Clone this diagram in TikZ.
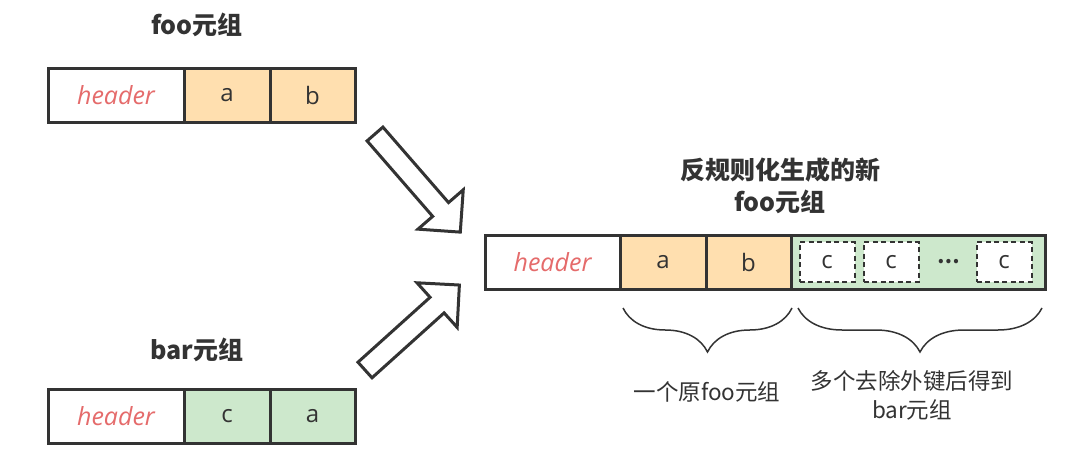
\documentclass[tikz,border=0pt]{standalone}
\usepackage{fontspec}
\setmainfont{Noto Sans CJK SC}
\newfontfamily\hdrfont{Open Sans}
\usetikzlibrary{positioning,calc,decorations.pathreplacing}

\definecolor{ink}{HTML}{333333}
\definecolor{fooorange}{HTML}{FFDFAF}
\definecolor{bargreen}{HTML}{CDE8CC}
\definecolor{hdrred}{HTML}{E56B6B}

\tikzset{
  cell/.style={draw=ink, line width=3pt, minimum height=54pt, outer sep=0pt,
    inner sep=0pt, text=ink, font=\hdrfont\fontsize{24}{28}\selectfont},
  hdrcell/.style={cell, minimum width=136pt, fill=white, text=hdrred,
    font=\hdrfont\itshape\fontsize{25}{28}\selectfont},
  foocell/.style={cell, minimum width=86pt, fill=fooorange},
  barcell/.style={cell, minimum width=86pt, fill=bargreen},
  cbox/.style={draw=ink, line width=2pt, dash pattern=on 5pt off 3.5pt, fill=white,
    minimum width=55pt, minimum height=40pt, inner sep=0pt, text=ink,
    font=\hdrfont\fontsize{24}{28}\selectfont},
  title/.style={text=ink, font=\bfseries\fontsize{25}{32}\selectfont, align=center},
  note/.style={text=ink, font=\fontsize{22.5}{29}\selectfont, align=center},
  curly/.style={draw=ink, line width=1.5pt, decorate,
    decoration={brace, mirror, amplitude=44pt}},
  hollow/.style={draw=ink, line width=3pt, fill=white, line join=miter},
}

\begin{document}
\begin{tikzpicture}[x=1pt, y=-1pt, node distance=0pt]
\useasboundingbox (0,0) rectangle (1082,455);

% foo tuple
\node[title] (footitle) at (197,25) {foo元组};
\node[hdrcell] (fooh) at (116,95) {header};
\node[foocell, right=of fooh] (fooa) {a};
\node[foocell, right=of fooa, minimum width=85pt] (foob) {b};

% bar tuple
\node[title] (bartitle) at (197,350) {bar元组};
\node[hdrcell] (barh) at (116,416) {header};
\node[barcell, right=of barh] (barc) {c};
\node[barcell, right=of barc, minimum width=85pt] (bara) {a};

% new foo tuple
\node[title] (newtitle) at (780,186) {反规则化生成的新\\foo元组};
\node[hdrcell, minimum width=135pt] (newh) at (552.5,262) {header};
\node[foocell, right=of newh] (newa) {a};
\node[foocell, right=of newa, minimum width=85pt] (newb) {b};
\node[barcell, right=of newb, minimum width=254pt] (newg) {};
\node[cbox] (c1) at (827,262) {c};
\node[cbox] (c2) at (891,262) {c};
\node[text=ink, font=\bfseries\fontsize{20}{24}\selectfont] (dots) at (949,262) {…};
\node[cbox] (c3) at (1004,262) {c};

% arrows
\draw[hollow, shift={(375,134)}, rotate=-49]
  (0,-10.5) -- (100,-10.5) -- (100,-30) -- (130,0) -- (100,30) -- (100,10.5) -- (0,10.5) -- cycle;
\draw[hollow, shift={(365,370)}, rotate=42]
  (0,-10.5) -- (97,-10.5) -- (97,-30) -- (127,0) -- (97,30) -- (97,10.5) -- (0,10.5) -- cycle;

% braces
\draw[curly] ($(newa.south west)+(3,19)$) -- ($(newb.south east)+(1,19)$);
\draw[curly] ($(newg.south west)+(7,19)$) -- ($(newg.south east)+(-3,19)$);
\node[note] (foonote) at (707,392) {一个原foo元组};
\node[note] (barnote) at (912,395) {多个去除外键后得到\\bar元组};
\end{tikzpicture}
\end{document}
